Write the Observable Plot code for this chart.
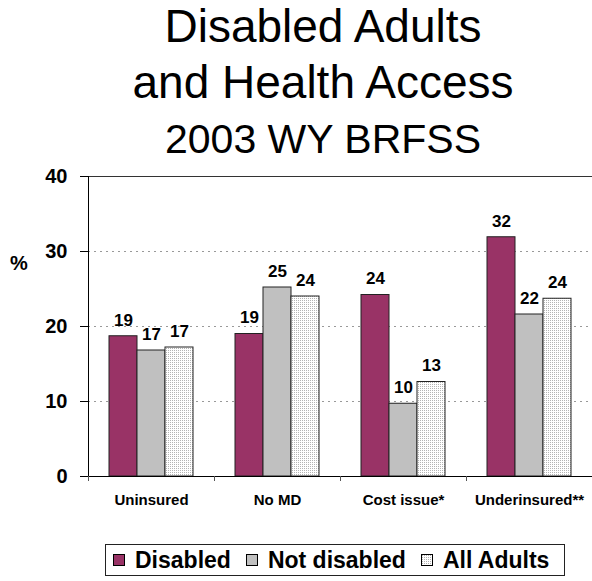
<!DOCTYPE html>
<html>
<head>
<meta charset="utf-8">
<script src="https://cdn.jsdelivr.net/npm/d3@7"></script>
<script src="https://cdn.jsdelivr.net/npm/@observablehq/plot@0.6"></script>
<style>
  html, body { margin: 0; padding: 0; background: #fff; }
  body { width: 592px; height: 581px; position: relative; overflow: hidden; font-family: "Liberation Sans", Arial, sans-serif; color: #000; }
  .t { position: absolute; left: 54px; width: 538px; text-align: center; white-space: nowrap; }
  .t1 { top: 3px; font-size: 46px; line-height: 46px; }
  .t2 { top: 59px; font-size: 46px; line-height: 46px; }
  .t3 { top: 119px; font-size: 41px; line-height: 41px; }
  #chart { position: absolute; left: 0; top: 160px; }
  #ylab { position: absolute; left: 10px; top: 252px; font-size: 20px; font-weight: bold; line-height: 22px; }
  #legend { position: absolute; left: 105px; top: 544px; width: 460px; height: 32px; box-sizing: border-box; border: 1px solid #222; display: flex; align-items: center; padding-left: 7px; font-weight: bold; font-size: 23px; white-space: nowrap; overflow: visible; }
  .item { display: flex; align-items: center; margin-right: 15px; flex-shrink: 0; white-space: nowrap; }
  .sw { width: 12px; height: 12px; box-sizing: border-box; border: 1px solid #000; margin-right: 10px; overflow: hidden; flex-shrink: 0; }
  .sw svg { display: block; }
</style>
</head>
<body>
<div class="t t1">Disabled Adults</div>
<div class="t t2">and Health Access</div>
<div class="t t3">2003 WY BRFSS</div>
<div id="ylab">%</div>
<div id="chart"></div>
<div id="legend"></div>
<script>
const categories = ["Uninsured", "No MD", "Cost issue*", "Underinsured**"];
const series = ["Disabled", "Not disabled", "All Adults"];
const disabled = [18.7, 19.0, 24.2, 31.9];
const notDisabled = [16.8, 25.2, 9.7, 21.6];
const allAdults = [17.2, 24.0, 12.6, 23.7];
const disabledLabels = [19, 19, 24, 32];
const notDisabledLabels = [17, 25, 10, 22];
const allAdultsLabels = [17, 24, 13, 24];
const yTicks = [0, 10, 20, 30, 40];
const colors = ["#993366", "#C0C0C0", "url(#dots)"];

const values = [disabled, notDisabled, allAdults];
const labels = [disabledLabels, notDisabledLabels, allAdultsLabels];
const data = categories.flatMap((c, i) =>
  series.map((s, j) => ({cat: c, series: s, value: values[j][i], label: labels[j][i]}))
);

const W = 592, ML = 88, MR = 0;
const step = (W - ML - MR) / categories.length;

const svg = Plot.plot({
  width: W,
  height: 360,
  marginLeft: ML,
  marginRight: MR,
  marginTop: 16,
  marginBottom: 44,
  style: {fontFamily: "'Liberation Sans', Arial, sans-serif", background: "transparent", overflow: "visible", color: "#000"},
  fx: {domain: categories, padding: 0, label: null},
  x: {domain: series, paddingInner: 0, paddingOuter: 0.75, axis: null},
  y: {domain: [0, 40], axis: null},
  color: {domain: series, range: colors},
  marks: [
    Plot.gridY(yTicks.slice(1, -1), {stroke: "#999", strokeOpacity: 1, strokeDasharray: "2,4"}),
    Plot.ruleY([40], {stroke: "#333"}),
    Plot.barY(data, {fx: "cat", x: "series", y: "value", fill: "series", stroke: "#222", strokeWidth: 1}),
    Plot.text(data, {fx: "cat", x: "series", y: "value", text: "label", dy: -16, fontSize: 17, fontWeight: "bold"}),
    Plot.ruleY([0], {stroke: "#000"}),
    Plot.frame({anchor: "left", facetAnchor: "left", stroke: "#000"}),
    Plot.axisY({ticks: yTicks, tickSize: 8, tickPadding: 13, fontSize: 20, fontWeight: "bold", label: null}),
    Plot.axisFx({anchor: "bottom", tickSize: 0, tickPadding: 18, fontSize: 15, fontWeight: "bold", label: null}),
    Plot.axisFx({anchor: "bottom", tickSize: 5, tickFormat: () => "", dx: -step / 2, label: null, stroke: "#555"})
  ]
});

// dotted pattern for "All Adults"
const ns = "http://www.w3.org/2000/svg";
function makePattern(target) {
  const defs = document.createElementNS(ns, "defs");
  const pat = document.createElementNS(ns, "pattern");
  pat.setAttribute("id", "dots");
  pat.setAttribute("patternUnits", "userSpaceOnUse");
  pat.setAttribute("width", "2");
  pat.setAttribute("height", "2");
  const bg = document.createElementNS(ns, "rect");
  bg.setAttribute("width", "2"); bg.setAttribute("height", "2"); bg.setAttribute("fill", "#fff");
  const d = document.createElementNS(ns, "rect");
  d.setAttribute("width", "1"); d.setAttribute("height", "1"); d.setAttribute("fill", "#b4b4b4");
  pat.appendChild(bg); pat.appendChild(d);
  defs.appendChild(pat);
  target.insertBefore(defs, target.firstChild);
}
makePattern(svg);
document.getElementById("chart").appendChild(svg);

// legend
const legend = document.getElementById("legend");
series.forEach((s, i) => {
  const item = document.createElement("div");
  item.className = "item";
  const sw = document.createElement("div");
  sw.className = "sw";
  const ssvg = document.createElementNS(ns, "svg");
  ssvg.setAttribute("width", "10"); ssvg.setAttribute("height", "10");
  const r = document.createElementNS(ns, "rect");
  r.setAttribute("width", "10"); r.setAttribute("height", "10");
  r.setAttribute("fill", colors[i]);
  ssvg.appendChild(r);
  sw.appendChild(ssvg);
  const tx = document.createElement("span");
  tx.textContent = s;
  item.appendChild(sw); item.appendChild(tx);
  legend.appendChild(item);
});
</script>
</body>
</html>
